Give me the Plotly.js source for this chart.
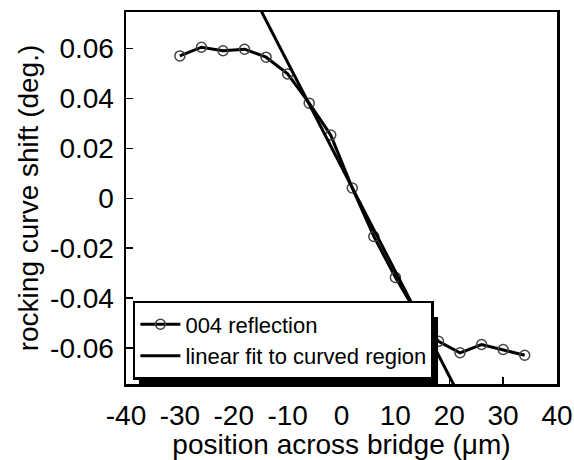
<!DOCTYPE html>
<html>
<head>
<meta charset="utf-8">
<script src="https://cdn.plot.ly/plotly-3.0.1.min.js"></script>
<style>html,body{margin:0;padding:0;background:#fff;}#chart{width:574px;height:460px;}</style>
</head>
<body>
<div id="chart"></div>
<script>
// Measured data (position in µm, rocking curve shift in degrees)
const positions = [-30, -26, -22, -18, -14, -10, -6, -2, 2, 6, 10, 14, 18, 22, 26, 30, 34];
const shifts = [0.0570, 0.0605, 0.0591, 0.0597, 0.0565, 0.0498, 0.0381, 0.0253, 0.0041, -0.0153, -0.0317, -0.0462, -0.0573, -0.0619, -0.0586, -0.0606, -0.0629];
// Linear fit endpoints
const fitX = [-15.5, 21.5];
const fitY = [0.0775, -0.0775];
// Tick values and labels
const xTickVals = [-40, -30, -20, -10, 0, 10, 20, 30, 40];
const xTickText = ["-40", "-30", "-20", "-10", "0", "10", "20", "30", "40"];
const yTickVals = [-0.06, -0.04, -0.02, 0, 0.02, 0.04, 0.06];
const yTickText = ["-0.06", "-0.04", "-0.02", "0", "0.02", "0.04", "0.06"];

const font = "Liberation Sans, Arial, sans-serif";

const traces = [
  {
    x: positions, y: shifts, type: "scatter", mode: "lines+markers",
    name: "004 reflection",
    line: {color: "#000", width: 3},
    marker: {symbol: "circle-open", size: 10, color: "#444", line: {width: 1.5, color: "#444"}}
  },
  {
    x: fitX, y: fitY, type: "scatter", mode: "lines",
    name: "linear fit to curved region",
    line: {color: "#000", width: 3}
  }
];

const layout = {
  width: 574, height: 460,
  margin: {l: 126, r: 17, t: 12, b: 76},
  paper_bgcolor: "#fff", plot_bgcolor: "#fff",
  font: {family: font, color: "#000", size: 28},
  showlegend: true,
  legend: {
    x: 0.016, y: 0.011, xanchor: "left", yanchor: "bottom",
    bgcolor: "#fff", bordercolor: "#000", borderwidth: 2.5,
    font: {family: font, size: 22, color: "#000"},
    tracegroupgap: 0, itemwidth: 40
  },
  shapes: [{
    type: "rect", xref: "paper", yref: "paper", layer: "above",
    x0: 0.03, x1: 0.724, y0: 0.0, y1: 0.18,
    fillcolor: "#000", line: {width: 0}
  }],
  xaxis: {
    range: [-40, 40], tickmode: "array", tickvals: xTickVals, ticktext: xTickText,
    ticks: "inside", ticklen: 7, tickwidth: 1.5, tickcolor: "#000",
    showline: true, linecolor: "#000", linewidth: 2.5, mirror: true,
    showgrid: false, zeroline: false,
    tickfont: {family: font, size: 28, color: "#000"},
    ticklabelstandoff: 5,
    title: {text: "position across bridge (\u03bcm)", font: {family: font, size: 28, color: "#000"}, standoff: 2}
  },
  yaxis: {
    range: [-0.0744, 0.0746], tickmode: "array", tickvals: yTickVals, ticktext: yTickText,
    ticks: "inside", ticklen: 7, tickwidth: 1.5, tickcolor: "#000",
    showline: true, linecolor: "#000", linewidth: 2.5, mirror: true,
    showgrid: false, zeroline: false,
    tickfont: {family: font, size: 28, color: "#000"},
    ticklabelstandoff: 4,
    title: {text: "rocking curve shift (deg.)", font: {family: font, size: 28, color: "#000"}, standoff: 4}
  }
};

Plotly.newPlot("chart", traces, layout, {staticPlot: true, displayModeBar: false});
</script>
</body>
</html>
